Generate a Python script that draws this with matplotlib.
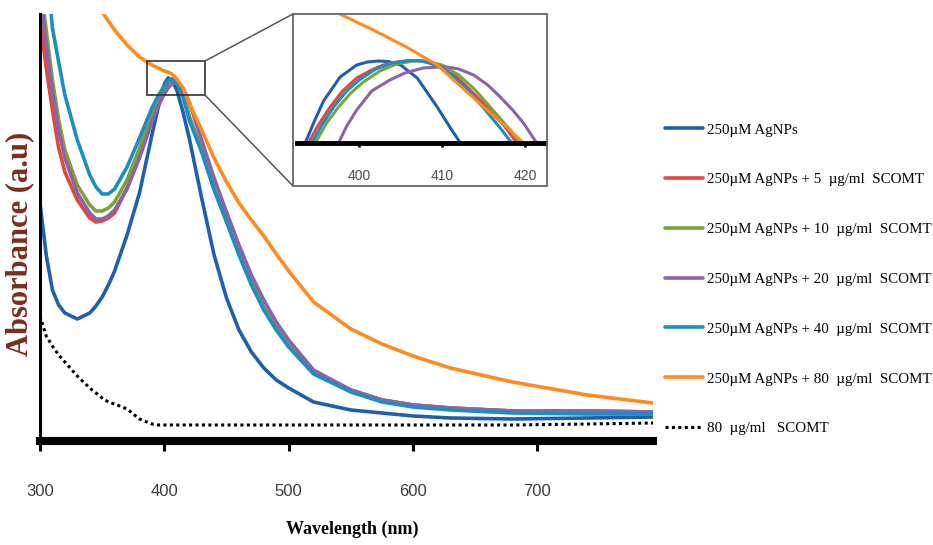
import matplotlib
matplotlib.use('Agg')
import matplotlib.pyplot as plt
from matplotlib.patches import Rectangle, ConnectionPatch

# wavelength grid (nm) and absorbance readings (a.u.) for the main plot
wavelength = [300, 305, 310, 315, 320, 330, 340, 345, 350, 355, 360, 370, 380, 390, 395,
              400, 403, 406, 410, 415, 420, 430, 440, 450, 460, 470, 480, 490, 500, 520,
              550, 575, 600, 630, 680, 740, 793]

agnps = [2.38, 1.86, 1.51, 1.36, 1.28, 1.22, 1.28, 1.35, 1.44, 1.56, 1.70, 2.06, 2.48, 3.06, 3.33,
         3.57, 3.63, 3.61, 3.51, 3.29, 3.03, 2.43, 1.86, 1.43, 1.11, 0.89, 0.73, 0.61, 0.53, 0.39,
         0.31, 0.28, 0.25, 0.23, 0.22, 0.23, 0.24]
scomt_5 = [4.21, 3.73, 3.31, 2.93, 2.69, 2.41, 2.23, 2.19, 2.20, 2.23, 2.28, 2.53, 2.86, 3.26, 3.41,
           3.53, 3.58, 3.61, 3.59, 3.48, 3.24, 2.91, 2.53, 2.21, 1.88, 1.58, 1.33, 1.13, 0.96, 0.69,
           0.51, 0.41, 0.36, 0.33, 0.30, 0.30, 0.29]
scomt_10 = [4.61, 4.11, 3.61, 3.21, 2.91, 2.56, 2.36, 2.30, 2.30, 2.33, 2.39, 2.61, 2.93, 3.29, 3.43,
            3.54, 3.59, 3.62, 3.60, 3.48, 3.25, 2.91, 2.54, 2.21, 1.89, 1.59, 1.34, 1.14, 0.97, 0.69,
            0.51, 0.41, 0.36, 0.33, 0.30, 0.30, 0.29]
scomt_20 = [4.51, 3.96, 3.49, 3.11, 2.83, 2.48, 2.28, 2.22, 2.22, 2.25, 2.31, 2.52, 2.83, 3.19, 3.35,
            3.47, 3.53, 3.57, 3.59, 3.53, 3.39, 3.01, 2.63, 2.29, 1.96, 1.66, 1.41, 1.19, 1.01, 0.71,
            0.51, 0.41, 0.36, 0.33, 0.30, 0.30, 0.29]
scomt_40 = [5.91, 4.81, 4.13, 3.79, 3.46, 3.01, 2.66, 2.54, 2.47, 2.47, 2.52, 2.74, 3.03, 3.33, 3.45,
            3.55, 3.60, 3.62, 3.58, 3.44, 3.21, 2.89, 2.51, 2.19, 1.86, 1.56, 1.31, 1.11, 0.94, 0.67,
            0.49, 0.39, 0.34, 0.31, 0.28, 0.27, 0.27]
scomt_80 = [5.71, 5.51, 5.36, 5.21, 5.06, 4.79, 4.53, 4.40, 4.29, 4.20, 4.11, 3.96, 3.84, 3.76, 3.73,
            3.70, 3.69, 3.67, 3.62, 3.53, 3.38, 3.11, 2.83, 2.59, 2.38, 2.21, 2.05, 1.87, 1.70, 1.39,
            1.12, 0.97, 0.85, 0.73, 0.59, 0.46, 0.38]
scomt_only = [1.25, 1.05, 0.95, 0.86, 0.79, 0.65, 0.53, 0.48, 0.43, 0.39, 0.37, 0.32, 0.22, 0.17, 0.16,
              0.16, 0.16, 0.16, 0.16, 0.16, 0.16, 0.16, 0.16, 0.16, 0.16, 0.16, 0.16, 0.16, 0.16, 0.16,
              0.16, 0.16, 0.16, 0.16, 0.16, 0.17, 0.18]

labels = ['250\u00b5M AgNPs',
          '250\u00b5M AgNPs + 5  \u00b5g/ml  SCOMT',
          '250\u00b5M AgNPs + 10  \u00b5g/ml  SCOMT',
          '250\u00b5M AgNPs + 20  \u00b5g/ml  SCOMT',
          '250\u00b5M AgNPs + 40  \u00b5g/ml  SCOMT',
          '250\u00b5M AgNPs + 80  \u00b5g/ml  SCOMT',
          '80  \u00b5g/ml   SCOMT']
colors = ['#1f5fad', '#e2473d', '#7ba43a', '#8a64a8', '#1c8ec4', '#ff8b1e', 'black']

# inset readings (peak region, zoomed units)
inset_agnps_x = [393.5, 394.5, 395.7, 397.7, 399.7, 401.0, 402.3, 403.5, 405.0, 407.0, 409.4, 411.0, 412.2]
inset_agnps_y = [0.0, 0.20, 0.42, 0.66, 0.78, 0.81, 0.82, 0.815, 0.78, 0.65, 0.36, 0.15, 0.0]
inset_5_x = [393.9, 395.0, 396.5, 398.0, 399.7, 401.5, 402.9, 404.5, 405.7, 407.0, 407.7, 409.8, 411.5, 413.0, 415.8, 417.5, 419.0]
inset_5_y = [0.0, 0.17, 0.36, 0.52, 0.65, 0.73, 0.78, 0.81, 0.82, 0.825, 0.82, 0.76, 0.68, 0.56, 0.33, 0.17, 0.0]
inset_10_x = [394.7, 396.0, 397.5, 399.0, 400.5, 402.5, 404.5, 406.5, 408.0, 410.0, 412.0, 414.0, 416.0, 418.0, 419.4]
inset_10_y = [0.0, 0.19, 0.36, 0.50, 0.61, 0.72, 0.79, 0.82, 0.82, 0.78, 0.68, 0.53, 0.34, 0.15, 0.0]
inset_20_x = [397.5, 398.5, 399.7, 401.5, 403.7, 405.5, 407.7, 409.5, 410.6, 412.0, 413.8, 415.5, 417.0, 418.5, 419.8, 421.4]
inset_20_y = [0.0, 0.17, 0.33, 0.52, 0.63, 0.70, 0.75, 0.76, 0.76, 0.74, 0.68, 0.58, 0.46, 0.33, 0.20, 0.0]
inset_40_x = [394.3, 395.5, 397.0, 398.5, 400.0, 402.0, 404.0, 406.0, 407.5, 409.0, 411.0, 413.0, 415.0, 417.0, 418.4]
inset_40_y = [0.0, 0.18, 0.37, 0.52, 0.63, 0.74, 0.80, 0.825, 0.82, 0.79, 0.69, 0.54, 0.35, 0.15, 0.0]
inset_80_x = [396.0, 397.9, 401.7, 405.7, 409.4, 411.8, 415.0, 417.8, 419.8]
inset_80_y = [1.36, 1.28, 1.13, 0.96, 0.78, 0.60, 0.36, 0.16, 0.0]

W, H = 933, 545
fig = plt.figure(figsize=(W / 100, H / 100), dpi=100)
fig.patch.set_facecolor('white')

ax = fig.add_axes([40 / W, 1 - 441 / H, 613 / W, 427 / H])
series = [agnps, scomt_5, scomt_10, scomt_20, scomt_40, scomt_80]
for ys, c, lab in zip(series, colors[:6], labels[:6]):
    ax.plot(wavelength, ys, color=c, lw=2.6, label=lab, solid_capstyle='round')
ax.plot(wavelength, scomt_only, color='black', lw=2.2, linestyle=(0, (1, 1.1)), label=labels[6])

ax.set_xlim(300, 793)
ax.set_ylim(0, 4.27)
ax.set_yticks([])
ax.set_xticks([300, 400, 500, 600, 700])
for s in ['top', 'right']:
    ax.spines[s].set_visible(False)
ax.spines['bottom'].set_linewidth(5.8)
ax.spines['left'].set_linewidth(2.2)
ax.tick_params(axis='x', direction='out', length=7, width=2.2, pad=24,
               labelsize=12, labelcolor='#3c3c3c')
for t in ax.get_xticklabels():
    t.set_family('Liberation Sans')

ax.set_xlabel('Wavelength (nm)', fontsize=13, fontweight='bold', family='Liberation Serif')
ax.xaxis.set_label_coords((352 - 40) / 613, (441 - 521) / 427)
fig.text(20 / W, 1 - 244 / H, 'Absorbance (a.u)', rotation=90, ha='center', va='center',
         fontsize=22, fontweight='bold', family='Liberation Serif', color='#7b2d1e')

leg = ax.legend(loc='upper left', bbox_to_anchor=(665 / W, 1 - 123 / H),
                bbox_transform=fig.transFigure, frameon=False, borderpad=0, borderaxespad=0,
                handlelength=2.55, handletextpad=0.25, labelspacing=2.42,
                prop={'family': 'Liberation Serif', 'size': 10.8})

# zoom box and connectors
ax.add_patch(Rectangle((386, 3.46), 46.7, 0.34, fill=False, ec='#333333', lw=1.2, zorder=5))
for ya, yb in [(3.80, 1 - 14 / H), (3.46, 1 - 186 / H)]:
    con = ConnectionPatch(xyA=(432.7, ya), coordsA=ax.transData,
                          xyB=(293 / W, yb), coordsB=fig.transFigure, color='#555555', lw=1.1)
    fig.add_artist(con)
fig.add_artist(Rectangle((293 / W, 1 - 186 / H), 254 / W, 172 / H, transform=fig.transFigure,
                         fill=False, ec='#666666', lw=1.3))

# inset
axi = fig.add_axes([297 / W, 1 - 143 / H, 248 / W, 128 / H])
inset = [(inset_agnps_x, inset_agnps_y), (inset_5_x, inset_5_y), (inset_10_x, inset_10_y),
         (inset_20_x, inset_20_y), (inset_40_x, inset_40_y), (inset_80_x, inset_80_y)]
for (xs, ys), c in zip(inset, colors[:6]):
    axi.plot(xs, ys, color=c, lw=2.2)
axi.set_xlim(392.5, 422.4)
axi.set_ylim(0, 1.28)
axi.set_yticks([])
axi.set_xticks([400, 410, 420])
for s in ['top', 'right', 'left']:
    axi.spines[s].set_visible(False)
axi.spines['bottom'].set_linewidth(3.5)
axi.tick_params(axis='x', direction='out', length=3, width=2, pad=16,
                labelsize=10, labelcolor='#4a4a4a')
for t in axi.get_xticklabels():
    t.set_family('Liberation Sans')
axi.patch.set_alpha(0)

plt.savefig('out.png', dpi=100, facecolor='white')
plt.close()
